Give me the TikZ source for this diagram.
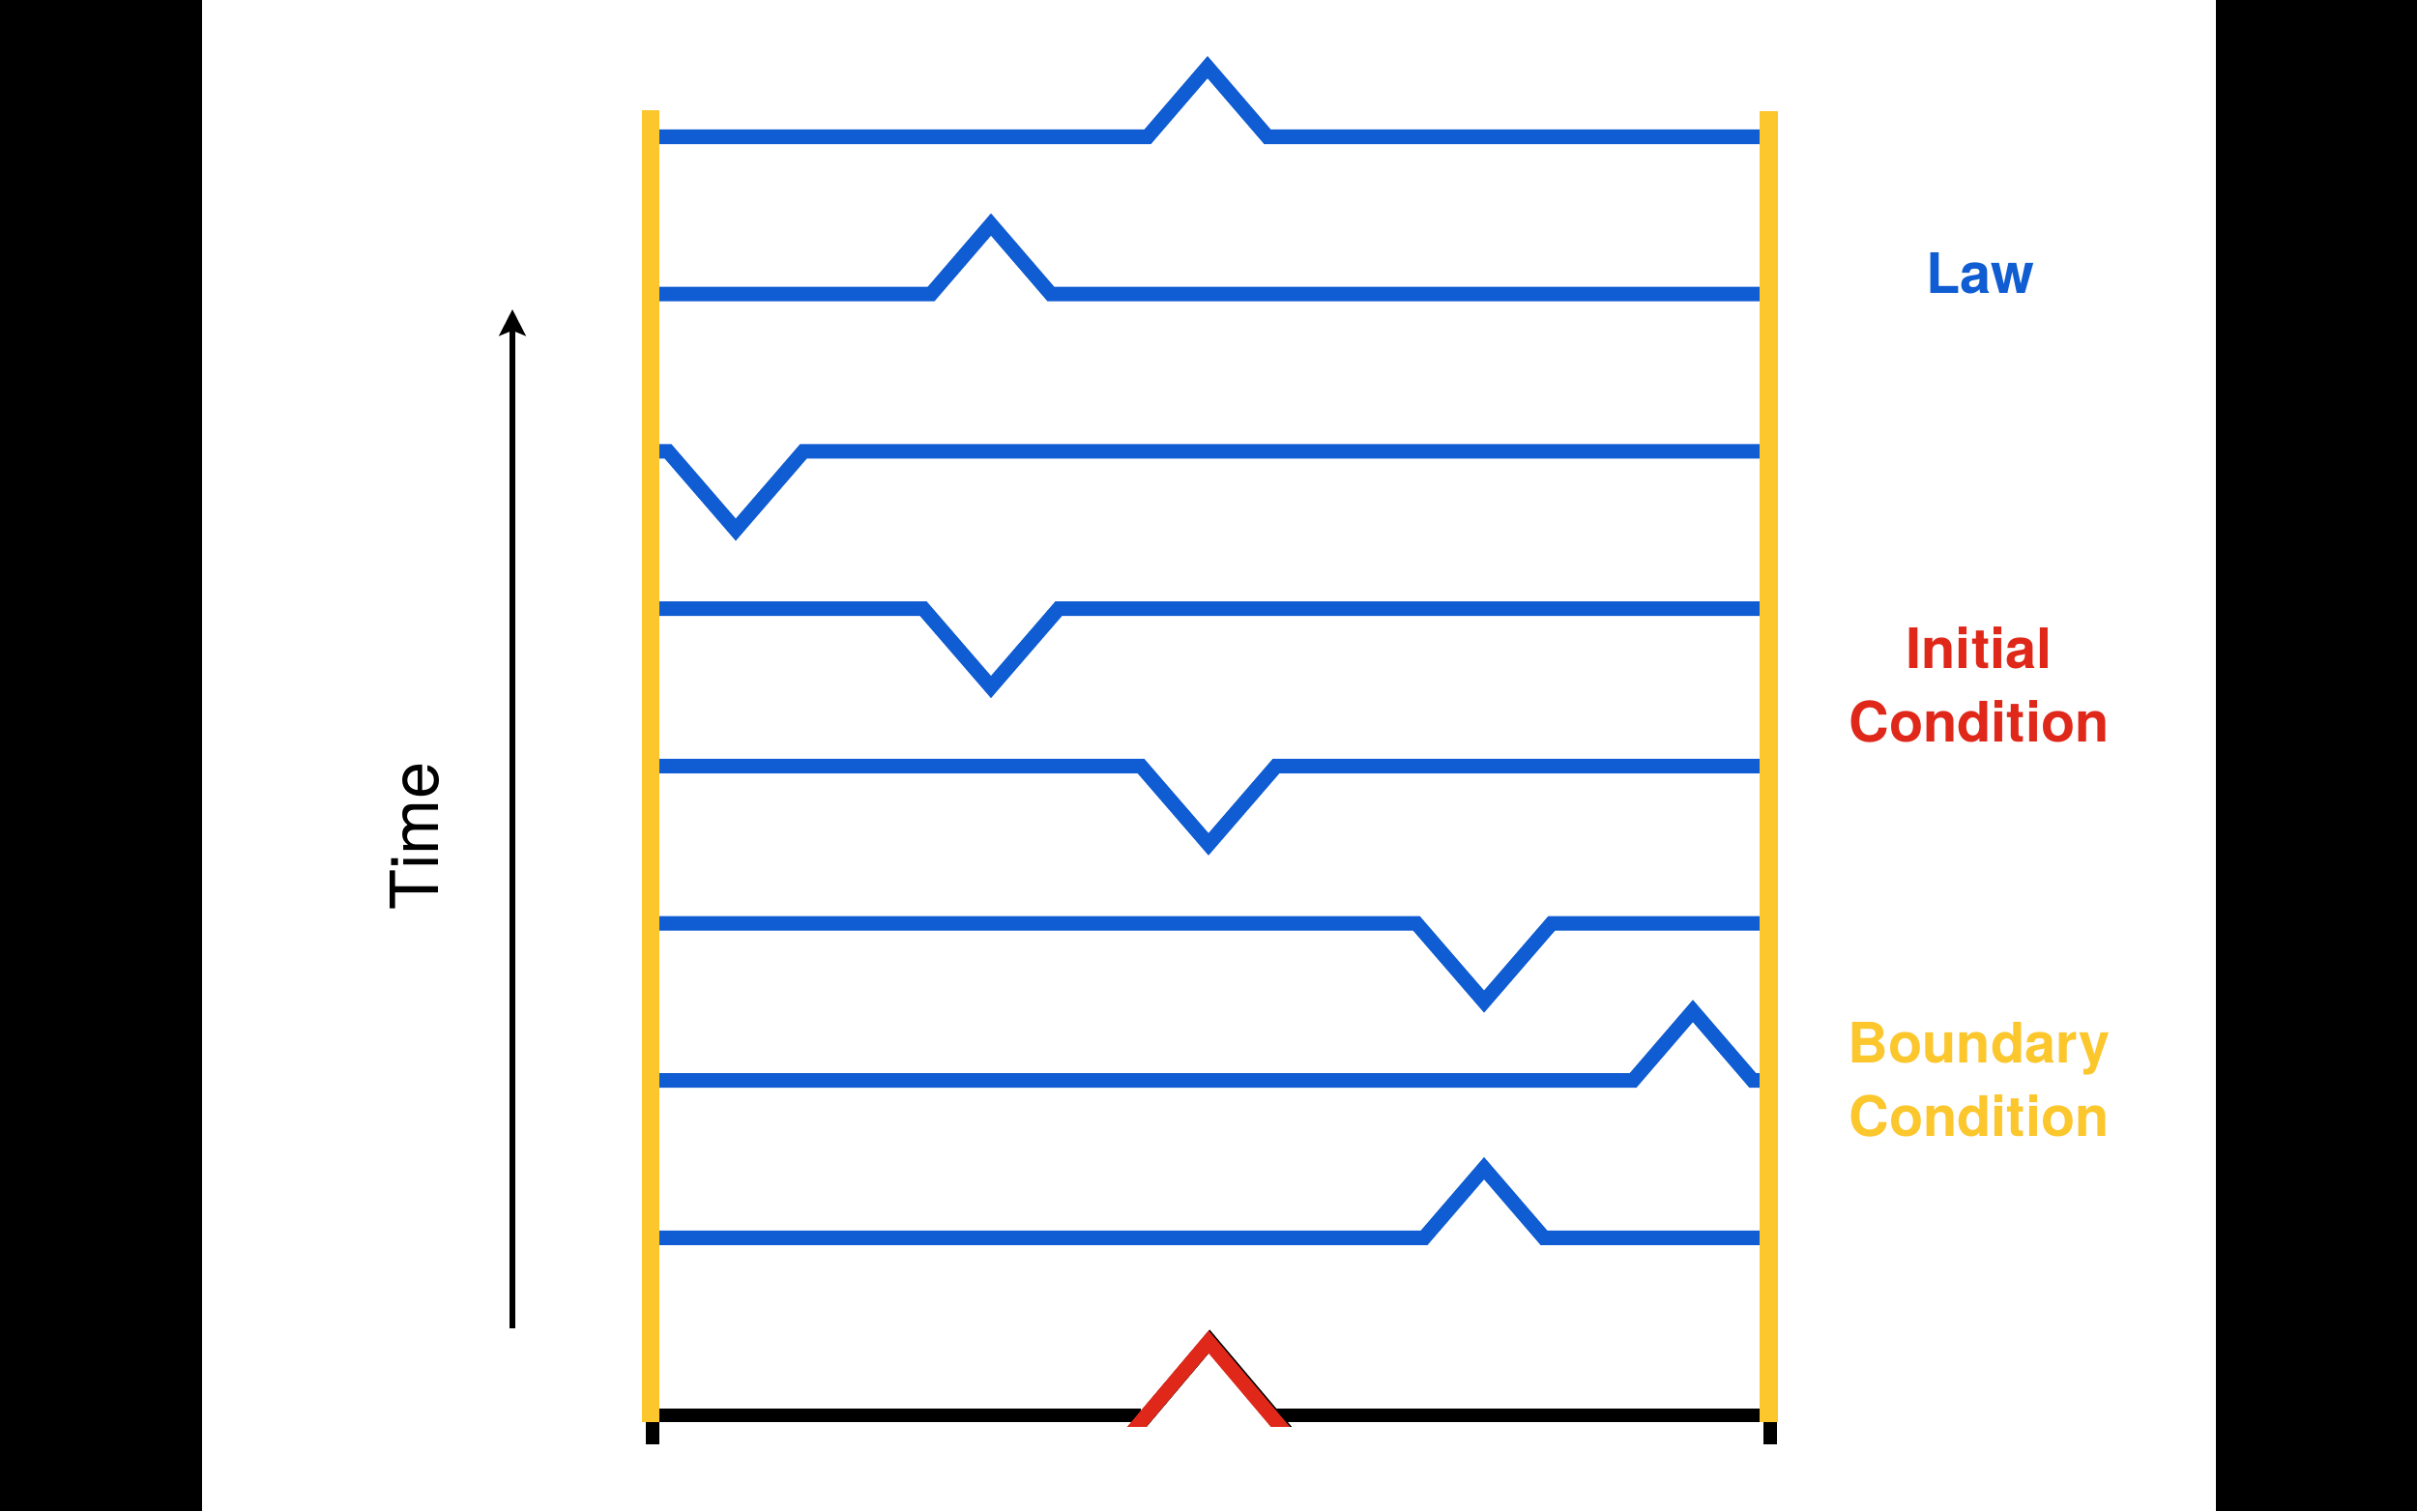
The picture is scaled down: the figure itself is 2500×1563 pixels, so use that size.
\documentclass[tikz,border=0pt]{standalone}
\usepackage{fontspec}
\setmainfont{TeX Gyre Heros}
\usetikzlibrary{arrows.meta}
\definecolor{lcol}{RGB}{16,92,210}
\definecolor{icol}{RGB}{224,40,26}
\definecolor{bcol}{RGB}{252,198,45}
\tikzset{every picture/.style={x=0.01cm,y=-0.01cm}}
\tikzset{wave/.style={lcol,line width=4.27pt,miter limit=10}}
\tikzset{pulse/.style={line width=4.27pt,miter limit=10}}
\tikzset{tag/.style={font=\bfseries\fontsize{16.4}{21.5}\selectfont,align=center,anchor=base}}
\tikzset{timeaxis/.style={line width=1.7pt,-{Stealth[length=7.7pt,width=7.7pt,inset=1.5pt]}}}

\begin{document}
\begin{tikzpicture}
\useasboundingbox (0,0) rectangle (2500,1563);
\fill [white] (0,0) rectangle (2500,1563);
\fill [black] (0,0) rectangle (209,1563);
\fill [black] (2292,0) rectangle (2500,1563);

% the law: one wave per time step
\draw [wave] (675,141.5) -- (1187,141.5) -- (1249,69.5) -- (1311,141.5) -- (1827,141.5);
\draw [wave] (675,304.2) -- (963,304.2) -- (1025,232.2) -- (1087,304.2) -- (1827,304.2);
\draw [wave] (675,466.9) -- (691,466.9) -- (761,547.9) -- (831,466.9) -- (1827,466.9);
\draw [wave] (675,629.6) -- (955,629.6) -- (1025,710.6) -- (1095,629.6) -- (1827,629.6);
\draw [wave] (675,792.3) -- (1180,792.3) -- (1250,873.3) -- (1320,792.3) -- (1827,792.3);
\draw [wave] (675,955) -- (1465,955) -- (1535,1036) -- (1605,955) -- (1827,955);
\draw [wave] (675,1117.7) -- (1689,1117.7) -- (1751,1045.7) -- (1813,1117.7) -- (1827,1117.7);
\draw [wave] (675,1280.4) -- (1473,1280.4) -- (1535,1208.4) -- (1597,1280.4) -- (1827,1280.4);

% initial condition
\fill [black] (668,1457) rectangle (1180,1471);
\fill [black] (1320,1457) rectangle (1838,1471);
\fill [black] (668,1471) rectangle (682,1494);
\fill [black] (1824,1471) rectangle (1838,1494);
\begin{scope}
\clip (0,0) rectangle (2500,1475);
\draw [pulse,black] (1165,1489) -- (1251.2,1387) -- (1337.4,1489);
\draw [pulse,icol] (1163.8,1490) -- (1250,1388) -- (1336.2,1490);
\end{scope}

% boundary
\fill [bcol] (664,114) rectangle (682,1471);
\fill [bcol] (1820,115) rectangle (1839,1471);

\draw [timeaxis] (530,1374) -- (530,320);
\node [rotate=90,anchor=base,font=\fontsize{19.5}{22}\selectfont] (time) at (453,865) {Time};

% base of a two-line tag is its second line
\node [tag,lcol] (law) at (2048,303) {Law};
\node [tag,icol] (init) at (2047,767) {Initial\\Condition};
\node [tag,bcol] (bound) at (2047,1175) {Boundary\\Condition};
\end{tikzpicture}
\end{document}
